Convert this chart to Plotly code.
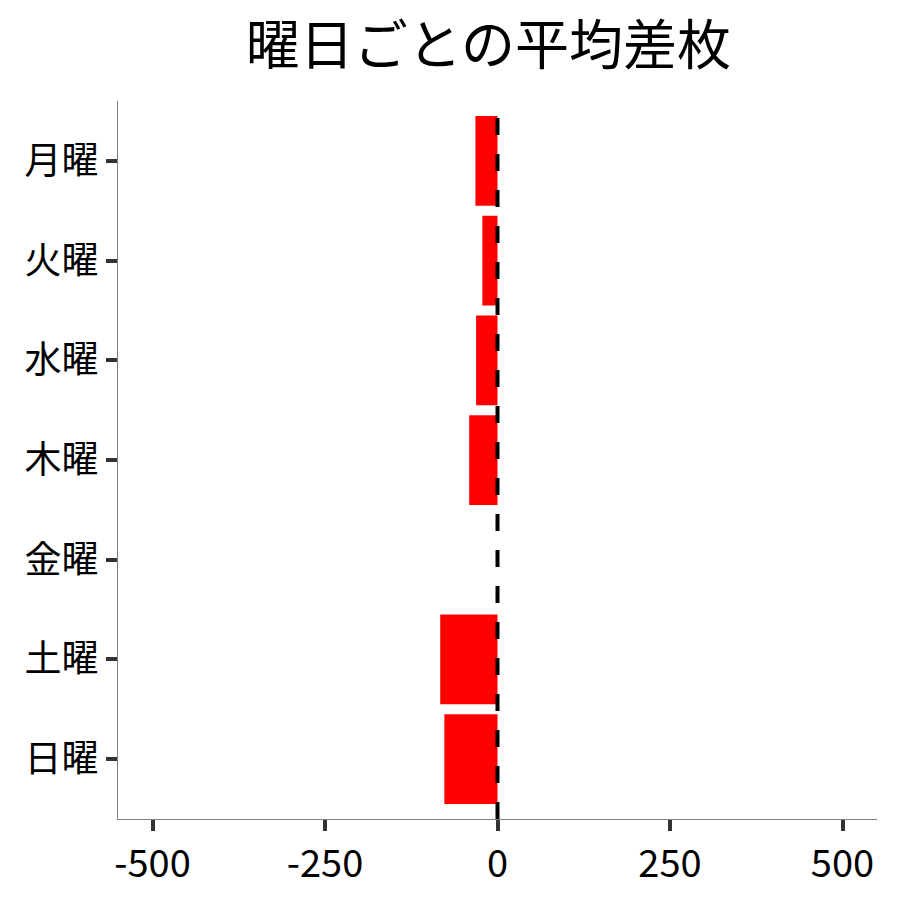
import plotly.graph_objects as go

# weekday labels and mean difference per weekday
days = ['月曜', '火曜', '水曜', '木曜', '金曜', '土曜', '日曜']
avg_diff = [-32, -22, -31, -41, 0, -83, -77]
x_ticks = [-500, -250, 0, 250, 500]

FONT = 'Noto Sans CJK JP'

fig = go.Figure()

fig.add_trace(go.Bar(
    x=avg_diff,
    y=days,
    orientation='h',
    marker=dict(color='#ff0000', line=dict(width=0)),
    width=0.9,
    showlegend=False,
))

# zero line (dashed, drawn over bars)
fig.add_vline(x=0, line=dict(color='black', width=4, dash='17px,19px'), layer='above')

# page has an 8px body margin, so margins are trimmed by 8
fig.update_layout(
    width=900, height=900,
    margin=dict(l=110, r=31, t=93, b=89),
    plot_bgcolor='white',
    paper_bgcolor='white',
    font=dict(family=FONT, color='black'),
    title=dict(text='曜日ごとの平均差枚', font=dict(family=FONT, size=54, color='black'),
               x=0.488, xref='paper', xanchor='center',
               y=1 - 38 / 900, yref='container', yanchor='middle'),
    bargap=0.1,
)

fig.update_xaxes(
    range=[-550, 550],
    tickvals=x_ticks,
    ticktext=[str(v) for v in x_ticks],
    showgrid=False, zeroline=False,
    showline=True, linecolor='#7f7f7f', linewidth=1,
    ticks='outside', ticklen=11, tickwidth=4, tickcolor='#333333',
    tickfont=dict(family=FONT, size=38, color='black'),
)

fig.update_yaxes(
    categoryorder='array', categoryarray=days,
    range=[6.6, -0.6],
    showgrid=False, zeroline=False,
    showline=True, linecolor='#7f7f7f', linewidth=1,
    ticks='outside', ticklen=11, tickwidth=4, tickcolor='#333333',
    tickfont=dict(family=FONT, size=37, color='black'),
)

fig.write_html("out.html")
